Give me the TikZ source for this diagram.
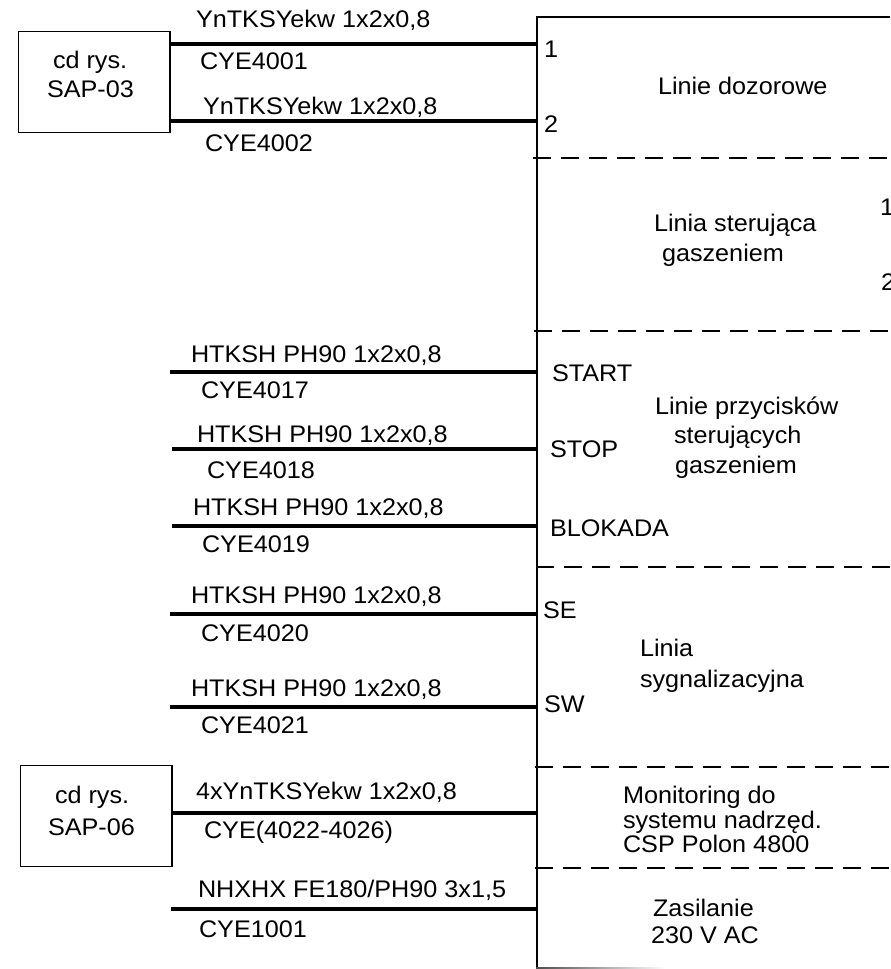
\documentclass[tikz,border=0pt]{standalone}
\usepackage{fontspec}
\setmainfont[FakeStretch=1.05]{Liberation Sans}
\tikzset{
  lbl/.style={anchor=base west,inner sep=0pt,outer sep=0pt,font=\fontsize{18pt}{21pt}\selectfont,text=black},
  srcbox/.style={draw,line width=0.9pt,inner sep=0pt,anchor=north west,minimum width=113.5pt,minimum height=75.5pt},
  cable/.style={line width=2.3pt},
  frame/.style={line width=1.6pt},
  sep/.style={line width=1.7pt,dash pattern=on 13.5pt off 7.5pt}
}
\begin{document}
\begin{tikzpicture}[x=0.75pt,y=-0.75pt]
\useasboundingbox (0,0) rectangle (890,969);
\node[srcbox] (boxa) at (18,31) {};
\node[srcbox] (boxb) at (20,765) {};
\node[lbl] (ba1) at (53,69) {cd rys.};
\node[lbl] (ba2) at (47,98) {SAP-03};
\node[lbl] (bb1) at (55,803) {cd rys.};
\node[lbl] (bb2) at (48,835) {SAP-06};
% frame
\coordinate (tl) at (537,17);
\coordinate (tr) at (890,17);
\coordinate (bl) at (537,968);
\coordinate (bm) at (665,969);
\draw[frame] (tr) -- (tl) -- (bl);
\shade[left color=black!70,right color=white] (536,967) rectangle (bm);
% separators
\foreach \n/\y/\xs in {a/158/533,b/331/534,c/567/536,d/767/535,e/868/535}{
  \coordinate (s\n l) at (\xs,\y);
  \coordinate (s\n r) at (890,\y);
  \draw[sep] (s\n l) -- (s\n r);
}
% cables
\foreach \n/\y/\xa in {p/372/170,q/449/172,r/526/172,s/614/170,t/707/170,v/909/171}{
  \coordinate (c\n a) at (\xa,\y);
  \coordinate (c\n b) at (538,\y);
  \draw[cable] (c\n a) -- (c\n b);
}
\coordinate (c1) at (537,44);
\coordinate (c2) at (538,121);
\coordinate (c3) at (537,813);
\draw[cable] (boxa.east |- c1) -- (c1);
\draw[cable] (boxa.east |- c2) -- (c2);
\draw[cable] (boxb.east |- c3) -- (c3);
% cable labels
\node[lbl] (l1) at (196,28) {YnTKSYekw 1x2x0,8};
\node[lbl] (l2) at (200,70) {CYE4001};
\node[lbl] (l3) at (203,115) {YnTKSYekw 1x2x0,8};
\node[lbl] (l4) at (205,152) {CYE4002};
\node[lbl] (l5) at (191,362) {HTKSH PH90 1x2x0,8};
\node[lbl] (l6) at (201,398) {CYE4017};
\node[lbl] (l7) at (197,442) {HTKSH PH90 1x2x0,8};
\node[lbl] (l8) at (207,478) {CYE4018};
\node[lbl] (l9) at (193,515) {HTKSH PH90 1x2x0,8};
\node[lbl] (l10) at (202,552) {CYE4019};
\node[lbl] (l11) at (191,603) {HTKSH PH90 1x2x0,8};
\node[lbl] (l12) at (201,641) {CYE4020};
\node[lbl] (l13) at (191,696) {HTKSH PH90 1x2x0,8};
\node[lbl] (l14) at (201,733) {CYE4021};
\node[lbl] (l15) at (196,799) {4xYnTKSYekw 1x2x0,8};
\node[lbl] (l16) at (204,838) {CYE(4022-4026)};
\node[lbl] (l17) at (198,897) {NHXHX FE180/PH90 3x1,5};
\node[lbl] (l18) at (199,937) {CYE1001};
% ports
\node[lbl] (p1) at (544,58) {1};
\node[lbl] (p2) at (544,133) {2};
\node[lbl] (p3) at (552,381) {START};
\node[lbl] (p4) at (550,457) {STOP};
\node[lbl] (p5) at (550,536) {BLOKADA};
\node[lbl] (p6) at (543,618) {SE};
\node[lbl] (p7) at (544,712) {SW};
\node[lbl] (p8) at (880,216) {1};
\node[lbl] (p9) at (881,291) {2};
% section titles
\node[lbl] (t1) at (658,95) {Linie dozorowe};
\node[lbl] (t2) at (654,232) {Linia sterująca};
\node[lbl] (t3) at (662,262) {gaszeniem};
\node[lbl] (t4) at (655,414) {Linie przycisków};
\node[lbl] (t5) at (674,443) {sterujących};
\node[lbl] (t6) at (675,473) {gaszeniem};
\node[lbl] (t7) at (640,656) {Linia};
\node[lbl] (t8) at (640,687) {sygnalizacyjna};
\node[lbl] (t9) at (623,803) {Monitoring do};
\node[lbl] (t10) at (623,828) {systemu nadrzęd.};
\node[lbl] (t11) at (623,852) {CSP Polon 4800};
\node[lbl] (t12) at (653,916) {Zasilanie};
\node[lbl] (t13) at (651,943) {230 V AC};
\end{tikzpicture}
\end{document}
